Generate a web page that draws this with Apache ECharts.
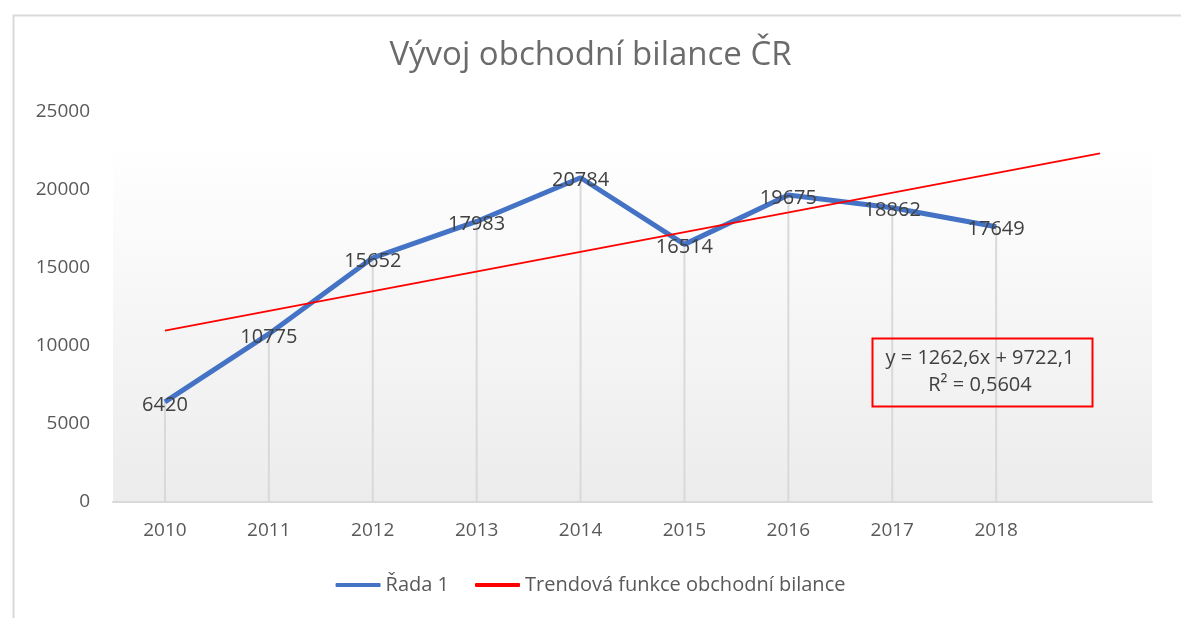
<!DOCTYPE html>
<html>
<head>
<meta charset="utf-8">
<script src="https://cdn.jsdelivr.net/npm/echarts@6/dist/echarts.min.js"></script>
<style>
  html, body { margin: 0; padding: 0; background: #fff; }
  #chart { width: 1181px; height: 618px; }
</style>
</head>
<body>
<div id="chart"></div>
<script>
// data
var years = ['2010', '2011', '2012', '2013', '2014', '2015', '2016', '2017', '2018', '']
var bilance = [6420, 10775, 15652, 17983, 20784, 16514, 19675, 18862, 17649, null]
// trend line endpoints (2010 and one period past 2018)
var trend = [10985, null, null, null, null, null, null, null, null, 22348]
var yTicks = { min: 0, max: 25000, interval: 5000 }

var chart = echarts.init(document.getElementById('chart'))
var font = '"Open Sans", "Noto Sans", sans-serif'

chart.setOption({
  animation: false,
  textStyle: { fontFamily: font },
  title: {
    text: 'Vývoj obchodní bilance ČR',
    left: 'center',
    top: 34,
    textStyle: { fontSize: 33, fontWeight: 'normal', color: '#6b6b6b', fontFamily: font }
  },
  grid: {
    left: 113,
    right: 29,
    top: 112,
    bottom: 116,
    show: true,
    borderWidth: 0,
    backgroundColor: new echarts.graphic.LinearGradient(0, 0, 0, 1, [
      { offset: 0, color: '#ffffff' },
      { offset: 0.08, color: '#ffffff' },
      { offset: 1, color: '#ececec' }
    ])
  },
  legend: {
    data: ['Řada 1', 'Trendová funkce obchodní bilance'],
    bottom: 18,
    left: 'center',
    itemWidth: 45,
    itemHeight: 4,
    itemGap: 26,
    icon: 'roundRect',
    textStyle: { fontSize: 20, color: '#595959', fontFamily: font }
  },
  xAxis: {
    type: 'category',
    data: years,
    axisLine: { lineStyle: { color: '#d9d9d9', width: 2 } },
    axisTick: { show: false },
    axisLabel: { fontSize: 19, color: '#595959', margin: 19 },
    splitLine: { show: false }
  },
  yAxis: {
    type: 'value',
    min: yTicks.min,
    max: yTicks.max,
    interval: yTicks.interval,
    axisLine: { show: false },
    axisTick: { show: false },
    axisLabel: {
      fontSize: 19,
      color: '#595959',
      margin: 23,
      formatter: function (v) { return String(v) }
    },
    splitLine: { show: false }
  },
  series: [
    {
      // drop lines from the points down to the axis
      name: 'drop',
      type: 'bar',
      data: bilance,
      barWidth: 2,
      itemStyle: { color: '#d9d9d9' },
      silent: true,
      z: 1
    },
    {
      name: 'Trendová funkce obchodní bilance',
      type: 'line',
      data: trend,
      connectNulls: true,
      showSymbol: false,
      lineStyle: { color: '#ff0000', width: 2 },
      itemStyle: { color: '#ff0000' },
      z: 3
    },
    {
      name: 'Řada 1',
      type: 'line',
      data: bilance,
      symbol: 'circle',
      symbolSize: 1,
      showSymbol: true,
      lineStyle: { color: '#4472c4', width: 5 },
      itemStyle: { color: '#4472c4' },
      label: {
        show: true,
        position: 'inside',
        offset: [0, 3],
        fontSize: 20,
        color: '#404040',
        fontFamily: font
      },
      z: 2
    }
  ],
  graphic: [
    {
      type: 'rect',
      left: 11,
      top: 13,
      shape: { width: 1300, height: 800 },
      style: { fill: 'none', stroke: '#d9d9d9', lineWidth: 2 },
      silent: true,
      z: -10
    },
    {
      type: 'rect',
      left: 870,
      top: 336,
      shape: { width: 220, height: 68 },
      style: { fill: 'none', stroke: '#ff0000', lineWidth: 2 },
      z: 10
    },
    {
      type: 'text',
      x: 980,
      y: 345,
      style: {
        text: 'y = 1262,6x + 9722,1\nR² = 0,5604',
        textAlign: 'center',
        fontSize: 20,
        lineHeight: 27,
        fill: '#404040',
        fontFamily: font
      },
      z: 10
    }
  ]
})
</script>
</body>
</html>
